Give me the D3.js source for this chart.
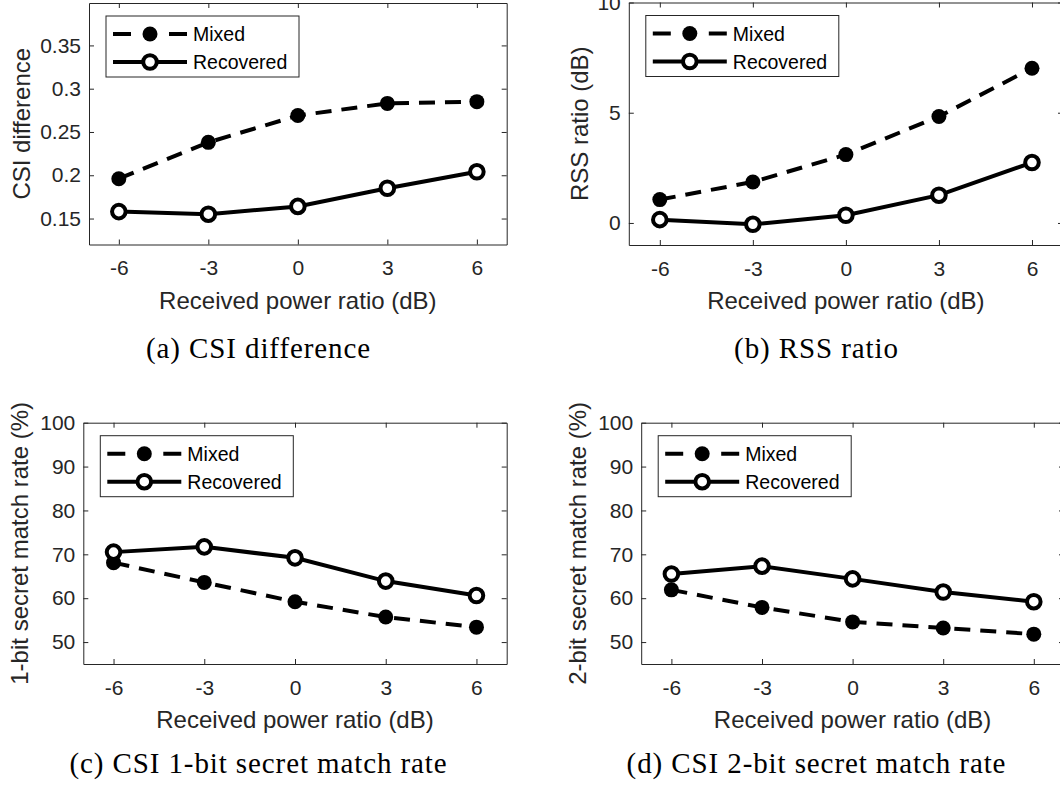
<!DOCTYPE html>
<html>
<head>
<meta charset="utf-8">
<script src="https://cdn.jsdelivr.net/npm/d3@7"></script>
<style>
  body { margin: 0; background: #fff; }
  svg { display: block; }
  .tick text { font-family: "Liberation Sans", Arial, sans-serif; fill: #262626; }
</style>
</head>
<body>
<svg id="fig" width="1060" height="786"></svg>
<script>
// data
const powerRatios = [-6, -3, 0, 3, 6];
const seriesNames = ["Mixed", "Recovered"];

const csiMixed     = [0.196, 0.238, 0.269, 0.283, 0.285];
const csiRecovered = [0.158, 0.155, 0.164, 0.185, 0.204];
const rssMixed     = [1.06, 1.86, 3.10, 4.83, 7.02];
const rssRecovered = [0.15, -0.06, 0.35, 1.26, 2.74];
const bit1Mixed     = [68.1, 63.6, 59.2, 55.7, 53.4];
const bit1Recovered = [70.5, 71.7, 69.2, 63.9, 60.6];
const bit2Mixed     = [61.9, 57.9, 54.6, 53.2, 51.8];
const bit2Recovered = [65.5, 67.3, 64.4, 61.4, 59.2];

const yTicksCsi = [0.15, 0.2, 0.25, 0.3, 0.35];
const yTicksRss = [0, 5, 10];
const yTicksRate = [50, 60, 70, 80, 90, 100];

const xLabel = "Received power ratio (dB)";

class LineChart {

  constructor(_config, _mixed, _recovered) {
    this.config = {
      parentElement: _config.parentElement,
      left: _config.left, right: _config.right,
      top: _config.top, bottom: _config.bottom,
      yDomain: _config.yDomain,
      yTicks: _config.yTicks,
      yLabel: _config.yLabel,
      yLabelOffset: _config.yLabelOffset,
      caption: _config.caption,
      captionX: _config.captionX,
      captionY: _config.captionY
    };
    this.mixed = _mixed;
    this.recovered = _recovered;
    this.initVis();
  }

  initVis() {
    let vis = this;
    const c = vis.config;

    vis.width = c.right - c.left;
    vis.height = c.bottom - c.top;

    vis.svg = d3.select(c.parentElement);
    vis.chart = vis.svg.append('g')
        .attr('transform', `translate(${c.left},${c.top})`);

    vis.xScale = d3.scaleLinear().domain([-7, 7]).range([0, vis.width]);
    vis.yScale = d3.scaleLinear().domain(c.yDomain).range([vis.height, 0]);

    // axes, MATLAB style: box on, ticks pointing inward
    const axisColor = '#262626';
    const styleAxis = g => {
      g.select('.domain').attr('stroke', axisColor).attr('stroke-width', 1);
      g.selectAll('.tick line').attr('stroke', axisColor).attr('stroke-width', 1);
    };

    vis.chart.append('g')
        .attr('transform', `translate(0,${vis.height})`)
        .call(d3.axisBottom(vis.xScale).tickValues(powerRatios)
          .tickSizeInner(-5).tickSizeOuter(0).tickPadding(16).tickFormat(d => String(d)))
        .call(styleAxis)
        .selectAll('text').attr('font-size', 21);

    vis.chart.append('g')
        .call(d3.axisLeft(vis.yScale).tickValues(c.yTicks)
          .tickSizeInner(-5).tickSizeOuter(0).tickPadding(8).tickFormat(d => String(d)))
        .call(styleAxis)
        .selectAll('text').attr('font-size', 21);

    vis.chart.append('g')
        .call(d3.axisTop(vis.xScale).tickValues(powerRatios)
          .tickSizeInner(-5).tickSizeOuter(0).tickFormat(''))
        .call(styleAxis);

    vis.chart.append('g')
        .attr('transform', `translate(${vis.width},0)`)
        .call(d3.axisRight(vis.yScale).tickValues(c.yTicks)
          .tickSizeInner(-5).tickSizeOuter(0).tickFormat(''))
        .call(styleAxis);

    vis.line = d3.line()
        .x((d, i) => vis.xScale(powerRatios[i]))
        .y(d => vis.yScale(d));

    // Mixed: dashed with filled dots
    vis.chart.append('path')
        .datum(vis.mixed)
        .attr('d', vis.line)
        .attr('fill', 'none')
        .attr('stroke', '#000')
        .attr('stroke-width', 4)
        .attr('stroke-dasharray', '16,10');

    vis.chart.selectAll('.dot-mixed')
        .data(vis.mixed)
        .enter()
        .append('circle')
          .attr('class', 'dot-mixed')
          .attr('cx', (d, i) => vis.xScale(powerRatios[i]))
          .attr('cy', d => vis.yScale(d))
          .attr('r', 7.5)
          .attr('fill', '#000');

    // Recovered: solid with open circles
    vis.chart.append('path')
        .datum(vis.recovered)
        .attr('d', vis.line)
        .attr('fill', 'none')
        .attr('stroke', '#000')
        .attr('stroke-width', 4);

    vis.chart.selectAll('.dot-rec')
        .data(vis.recovered)
        .enter()
        .append('circle')
          .attr('class', 'dot-rec')
          .attr('cx', (d, i) => vis.xScale(powerRatios[i]))
          .attr('cy', d => vis.yScale(d))
          .attr('r', 6.8)
          .attr('fill', '#fff')
          .attr('stroke', '#000')
          .attr('stroke-width', 4);

    // legend box
    const lg = vis.chart.append('g').attr('transform', 'translate(17,13)');
    lg.append('rect')
        .attr('width', 193).attr('height', 61)
        .attr('fill', '#fff').attr('stroke', axisColor).attr('stroke-width', 1);

    seriesNames.forEach((name, i) => {
      const ry = 18 + i * 28;
      const row = lg.append('g').attr('transform', `translate(0,${ry})`);
      const seg = row.append('line')
          .attr('x1', 7).attr('x2', 81).attr('y1', 0).attr('y2', 0)
          .attr('stroke', '#000').attr('stroke-width', 4);
      if (i === 0) {
        seg.attr('stroke-dasharray', '18,38');
        row.append('circle').attr('cx', 44).attr('cy', 0).attr('r', 7.5).attr('fill', '#000');
      } else {
        row.append('circle').attr('cx', 44).attr('cy', 0).attr('r', 6.8)
            .attr('fill', '#fff').attr('stroke', '#000').attr('stroke-width', 4);
      }
      row.append('text')
          .attr('x', 87).attr('y', 7)
          .attr('font-family', '"Liberation Sans", Arial, sans-serif')
          .attr('font-size', 19.5)
          .attr('fill', '#000')
          .text(name);
    });

    // axis labels
    vis.chart.append('text')
        .attr('x', vis.width / 2)
        .attr('y', vis.height + 64)
        .attr('text-anchor', 'middle')
        .attr('font-family', '"Liberation Sans", Arial, sans-serif')
        .attr('font-size', 24)
        .attr('fill', '#262626')
        .text(xLabel);

    vis.chart.append('text')
        .attr('transform', `translate(${c.yLabelOffset},${vis.height / 2}) rotate(-90)`)
        .attr('text-anchor', 'middle')
        .attr('font-family', '"Liberation Sans", Arial, sans-serif')
        .attr('font-size', 24)
        .attr('fill', '#262626')
        .text(c.yLabel);

    // sub-caption under the panel
    vis.svg.append('text')
        .attr('x', c.captionX)
        .attr('y', c.captionY)
        .attr('text-anchor', 'middle')
        .attr('font-family', '"Liberation Serif", "Times New Roman", serif')
        .attr('font-size', 29)
        .attr('letter-spacing', 0.9)
        .attr('fill', '#000')
        .text(c.caption);
  }
}

d3.select('#fig').append('rect').attr('width', 1060).attr('height', 786).attr('fill', '#fff');

new LineChart({ parentElement: '#fig', left: 89, right: 506.7, top: 3, bottom: 244.5,
  yDomain: [0.12, 0.399], yTicks: yTicksCsi, yLabel: 'CSI difference', yLabelOffset: -59,
  caption: '(a) CSI difference', captionX: 258.5, captionY: 358 }, csiMixed, csiRecovered);

new LineChart({ parentElement: '#fig', left: 628.8, right: 1063, top: 2.5, bottom: 245,
  yDomain: [-1, 10], yTicks: yTicksRss, yLabel: 'RSS ratio (dB)', yLabelOffset: -41,
  caption: '(b) RSS ratio', captionX: 816.5, captionY: 358 }, rssMixed, rssRecovered);

new LineChart({ parentElement: '#fig', left: 83.3, right: 506.7, top: 422.7, bottom: 664,
  yDomain: [45, 100], yTicks: yTicksRate, yLabel: '1-bit secret match rate (%)', yLabelOffset: -55,
  caption: '(c) CSI 1-bit secret match rate', captionX: 258.5, captionY: 773 }, bit1Mixed, bit1Recovered);

new LineChart({ parentElement: '#fig', left: 641.2, right: 1064, top: 422.7, bottom: 664,
  yDomain: [45, 100], yTicks: yTicksRate, yLabel: '2-bit secret match rate (%)', yLabelOffset: -55,
  caption: '(d) CSI 2-bit secret match rate', captionX: 816.5, captionY: 773 }, bit2Mixed, bit2Recovered);
</script>
</body>
</html>
